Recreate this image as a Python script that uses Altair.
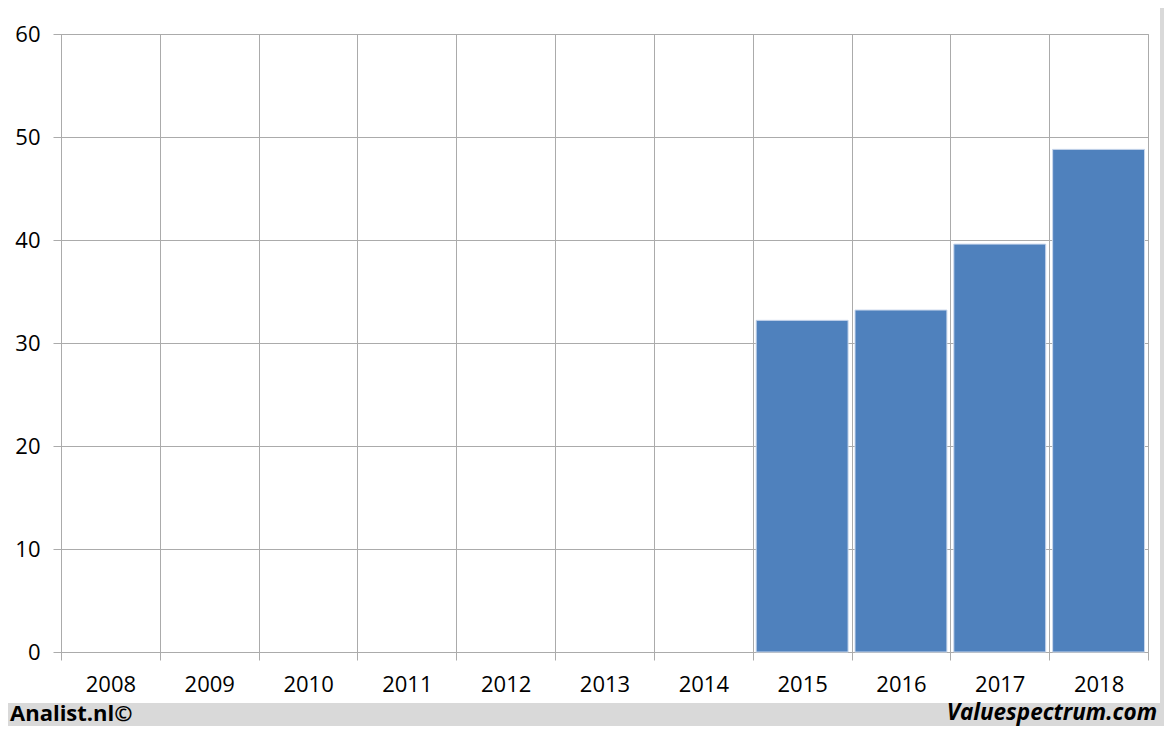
import altair as alt
import pandas as pd

# ---- data ----
years = ["2008", "2009", "2010", "2011", "2012", "2013", "2014",
         "2015", "2016", "2017", "2018"]
values = [None, None, None, None, None, None, None, 32.2, 33.2, 39.6, 48.8]
y_ticks = [0, 10, 20, 30, 40, 50, 60]
left_note = "Analist.nl©"
right_note = "Valuespectrum.com"

df = pd.DataFrame({"year": years, "value": values})
one = pd.DataFrame({"d": [0]})

W, H = 1087, 618
GRID = "#ababab"
FRAME = "#d9d9d9"
FONT = "Open Sans"

bars = alt.Chart(df).mark_bar(
    color="#4f81bd", stroke="#c9d7ec", strokeWidth=1,
    width=alt.RelativeBandSize(0.93),
).encode(
    x=alt.X(
        "year:N",
        scale=alt.Scale(domain=years, paddingInner=0, paddingOuter=0),
        axis=alt.Axis(
            title=None, tickBand="extent", grid=True, gridColor=GRID,
            gridWidth=1, tickColor=GRID, tickSize=8, domain=False,
            labelAngle=0, labelFont=FONT, labelFontSize=22,
            labelColor="#000000", labelPadding=14,
        ),
    ),
    y=alt.Y(
        "value:Q",
        scale=alt.Scale(domain=[0, 60], nice=False),
        axis=alt.Axis(
            title=None, values=y_ticks, grid=True, gridColor=GRID,
            gridWidth=1, tickColor=GRID, tickSize=8, domain=False,
            labelFont=FONT, labelFontSize=22, labelColor="#000000",
            labelPadding=13,
        ),
    ),
)

footer_band = alt.Chart(one).mark_rect(color=FRAME).encode(
    x=alt.value(-53), x2=alt.value(1103), y=alt.value(669), y2=alt.value(700)
)
right_band = alt.Chart(one).mark_rect(color=FRAME).encode(
    x=alt.value(1099), x2=alt.value(1103), y=alt.value(-26), y2=alt.value(669)
)
left_text = alt.Chart(one).mark_text(
    text=left_note, font=FONT, fontSize=22, fontWeight="bold",
    align="left", baseline="alphabetic", color="#000000",
).encode(x=alt.value(-51), y=alt.value(687))
right_text = alt.Chart(one).mark_text(
    text=right_note, font=FONT, fontSize=22.5, fontWeight="bold",
    fontStyle="italic", align="right", baseline="alphabetic", color="#000000",
).encode(x=alt.value(1096), y=alt.value(686))

chart = alt.layer(footer_band, right_band, bars, left_text, right_text).properties(
    width=W,
    height=H,
    autosize=alt.AutoSizeParams(type="none"),
    padding={"left": 53, "top": 26, "right": 16, "bottom": 74},
    background="#ffffff",
).configure_view(stroke=GRID, strokeWidth=1)

chart.save("out.html", embed_options={"renderer": "svg", "actions": False})
